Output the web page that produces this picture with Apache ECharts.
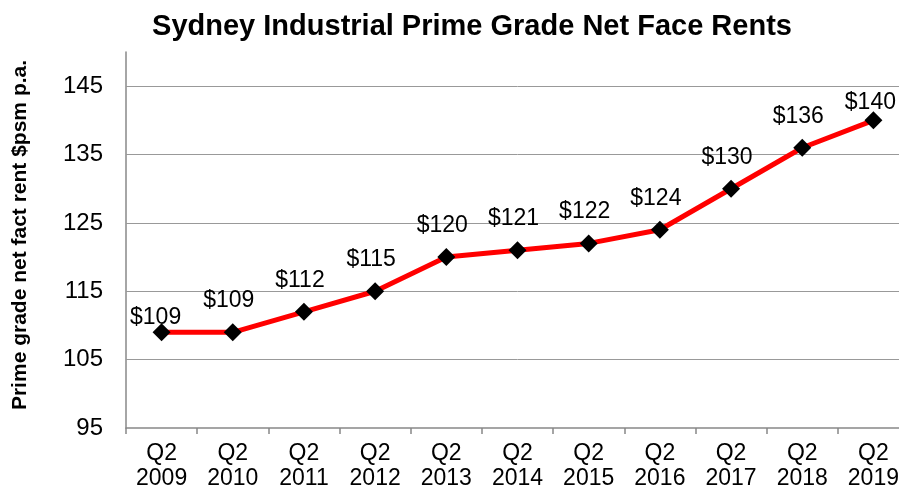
<!DOCTYPE html>
<html>
<head>
<meta charset="utf-8">
<script src="https://cdn.jsdelivr.net/npm/echarts@6/dist/echarts.min.js"></script>
<style>
  html, body { margin: 0; padding: 0; background: #fff; overflow: hidden; }
  #chart { width: 910px; height: 492px; }
</style>
</head>
<body>
<div id="chart"></div>
<script>
var quarters = ['Q2\n2009', 'Q2\n2010', 'Q2\n2011', 'Q2\n2012', 'Q2\n2013', 'Q2\n2014',
  'Q2\n2015', 'Q2\n2016', 'Q2\n2017', 'Q2\n2018', 'Q2\n2019'];
var rents = [109, 109, 112, 115, 120, 121, 122, 124, 130, 136, 140];
var gridValues = [105, 115, 125, 135, 145];

var chartDom = document.getElementById('chart');
var myChart = echarts.init(chartDom);
var option;

// first and last labels sit closer to their markers in the original
var points = rents.map(function (v, i) {
  var item = { value: v };
  if (i === 0) item.label = { offset: [-6, 11] };
  if (i === rents.length - 1) item.label = { offset: [-3, 8] };
  return item;
});

option = {
  animation: false,
  title: {
    text: 'Sydney Industrial Prime Grade Net Face Rents',
    left: 467,
    textAlign: 'center',
    top: 7,
    textStyle: {
      fontFamily: 'Liberation Sans, Arial',
      fontSize: 29,
      fontWeight: 'bold',
      color: '#000'
    }
  },
  grid: {
    left: 126,
    top: 52,
    right: 1,
    height: 376
  },
  xAxis: {
    type: 'category',
    data: quarters,
    boundaryGap: true,
    axisLine: { lineStyle: { color: '#888', width: 1.5 } },
    axisTick: { show: true, length: 6, lineStyle: { color: '#888', width: 1.5 } },
    axisLabel: {
      margin: 13,
      fontFamily: 'Liberation Sans, Arial',
      fontSize: 23,
      lineHeight: 25,
      color: '#000'
    }
  },
  yAxis: {
    type: 'value',
    min: 95,
    max: 150,
    interval: 10,
    name: 'Prime grade net fact rent $psm p.a.',
    nameLocation: 'middle',
    nameGap: 95,
    nameTextStyle: {
      fontFamily: 'Liberation Sans, Arial',
      fontSize: 21,
      fontWeight: 'bold',
      color: '#000',
      padding: [0, 0, 0, 10]
    },
    axisLine: { show: true, lineStyle: { color: '#888', width: 1.5 } },
    axisTick: { show: false },
    splitLine: { show: false },
    axisLabel: {
      showMaxLabel: false,
      margin: 23,
      fontFamily: 'Liberation Sans, Arial',
      fontSize: 24,
      color: '#000'
    }
  },
  series: [
    {
      type: 'line',
      data: points,
      symbol: 'diamond',
      symbolSize: 18,
      itemStyle: { color: '#000' },
      lineStyle: { color: '#ff0000', width: 5 },
      label: {
        show: true,
        position: 'top',
        distance: 5,
        offset: [-4, -6],
        formatter: function (p) { return '$' + p.value; },
        fontFamily: 'Liberation Sans, Arial',
        fontSize: 23,
        color: '#000'
      },
      markLine: {
        silent: true,
        symbol: 'none',
        label: { show: false },
        lineStyle: { color: '#999', width: 1, type: 'solid' },
        data: gridValues.map(function (v) { return { yAxis: v }; }),
        z: 1
      },
      z: 3
    }
  ]
};

option && myChart.setOption(option);
</script>
</body>
</html>
